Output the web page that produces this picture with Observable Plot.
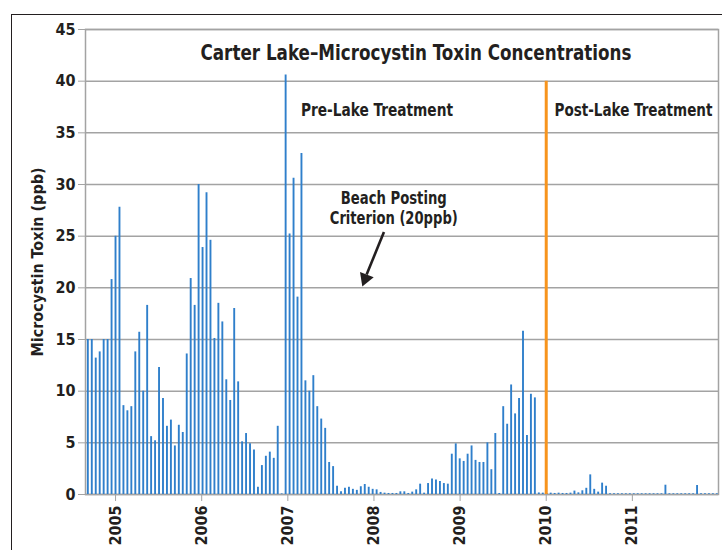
<!DOCTYPE html>
<html>
<head>
<meta charset="utf-8">
<script src="https://cdn.jsdelivr.net/npm/d3@7"></script>
<script src="https://cdn.jsdelivr.net/npm/@observablehq/plot@0.6"></script>
<style>
  html, body { margin: 0; padding: 0; background: #fff; }
  #wrap { position: relative; width: 722px; height: 550px; overflow: hidden; }
  #frame { position: absolute; left: 10.5px; top: 13.5px; width: 800px; height: 600px;
           border-left: 1.5px solid #231f20; border-top: 1.5px solid #231f20; pointer-events: none; }
  svg { position: absolute; left: 0; top: 0; }
</style>
</head>
<body>
<div id="wrap"><div id="frame"></div></div>
<script>
// ---- data ----
const years = [2005, 2006, 2007, 2008, 2009, 2010, 2011];
const yTicks = [0, 5, 10, 15, 20, 25, 30, 35, 40, 45];
// sampling: regular series beginning late 2004, about every 16.8 days
const sampleStart = 2004.678;
const sampleStep = 0.04593;
const toxin = [
  15.0, 15.0, 13.2, 13.8, 15.0, 15.0, 20.8, 25.0, 27.8, 8.6,
  8.1, 8.5, 13.8, 15.7, 10.0, 18.3, 5.6, 5.2, 12.3, 9.3,
  6.6, 7.2, 4.7, 6.7, 6.0, 13.6, 20.9, 18.3, 30.0, 23.9,
  29.2, 24.6, 15.1, 18.5, 16.7, 11.1, 9.1, 18.0, 10.9, 5.1,
  5.9, 4.9, 4.3, 0.7, 2.8, 3.7, 4.1, 3.5, 6.6, 0.06,
  40.6, 25.2, 30.6, 19.1, 33.0, 11.0, 10.0, 11.5, 8.5, 7.3,
  6.4, 3.1, 2.7, 0.8, 0.26, 0.6, 0.7, 0.5, 0.4, 0.75,
  0.97, 0.7, 0.5, 0.45, 0.2, 0.13, 0.1, 0.1, 0.1, 0.26,
  0.26, 0.1, 0.23, 0.45, 1.0, 0.13, 1.06, 1.5, 1.4, 1.26,
  1.06, 1.0, 3.9, 4.9, 3.45, 3.2, 3.9, 4.7, 3.3, 3.1,
  3.1, 5.0, 2.4, 5.9, 0.1, 8.5, 6.8, 10.6, 7.8, 9.3,
  15.8, 5.7, 9.7, 9.35, 0.15, 0.13, 0.1, 0.13, 0.1, 0.13,
  0.1, 0.1, 0.13, 0.33, 0.16, 0.36, 0.6, 1.9, 0.5, 0.23,
  1.1, 0.8, 0.07, 0.07, 0.07, 0.07, 0.07, 0.07, 0.07, 0.07,
  0.07, 0.07, 0.07, 0.07, 0.07, 0.07, 0.9, 0.07, 0.07, 0.07,
  0.07, 0.07, 0.07, 0.07, 0.87, 0.07, 0.07, 0.07, 0.07, 0.07
];
const treatmentYear = [2010];
const treatmentTop = 40;
const criterion = 20;

const FONT = '"Liberation Sans Narrow", "DejaVu Sans Condensed", "Arial Narrow", sans-serif';
const grey = "#a3a3a3";
const ink = "#231f20";

const chart = Plot.plot({
  width: 722,
  height: 550,
  marginLeft: 85,
  marginRight: 4,
  marginTop: 29,
  marginBottom: 56,
  style: { fontFamily: FONT, fontWeight: "bold", color: ink, background: "transparent" },
  x: { type: "linear", domain: [2004.651, 2012.0] },
  y: { domain: [0, 45] },
  marks: [
    Plot.gridY(yTicks, { stroke: grey, strokeOpacity: 1, strokeWidth: 1.5 }),
    Plot.frame({ stroke: grey, strokeWidth: 1.5 }),
    Plot.ruleX(toxin, {
      x: (d, i) => sampleStart + i * sampleStep,
      y1: 0, y2: d => d,
      stroke: "#2f7fcb", strokeWidth: 1.9
    }),
    Plot.ruleX(treatmentYear, { y1: 0, y2: treatmentTop, stroke: "#f7941d", strokeWidth: 3 }),
    Plot.axisY(yTicks, { tickSize: 7, tickPadding: 3, fontSize: 16, stroke: grey, fill: ink, label: null }),
    Plot.axisX(years, { tickSize: 7, tickPadding: 4, tickRotate: -90, fontSize: 16, stroke: grey, fill: ink,
                        tickFormat: d => String(d), label: null }),
    Plot.text(["Microcystin Toxin (ppb)"], { frameAnchor: "left", textAnchor: "middle", rotate: -90, dx: -47,
                                              fontSize: 15, fill: ink, className: "fit-ylabel" }),
    Plot.text(["Carter Lake–Microcystin Toxin Concentrations"], { x: 2008.488, y: 42.7, fontSize: 20.5, fill: ink, className: "fit-title" }),
    Plot.text(["Pre-Lake Treatment"], { x: 2008.035, y: 37.2, fontSize: 18, fill: ink, className: "fit-pre" }),
    Plot.text(["Post-Lake Treatment"], { x: 2011.93, y: 37.2, textAnchor: "end", fontSize: 18, fill: ink, className: "fit-post" }),
    Plot.text(["Beach Posting"], { x: 2008.23, y: 28.65, fontSize: 18, fill: ink, className: "fit-beach1" }),
    Plot.text(["Criterion (20ppb)"], { x: 2008.23, y: 26.71, fontSize: 18, fill: ink, className: "fit-beach2" }),
    Plot.link([criterion], { x1: 2008.116, y1: 25.4, x2: 2007.915, y2: 21.3, stroke: ink, strokeWidth: 2.6 }),
    Plot.dot([criterion], { x: 2007.9, y: 20.9, symbol: "triangle2", r: 7, rotate: 201, fill: ink, stroke: "none" })
  ]
});
// condense annotation text to the widths of the condensed face used in the original
const fits = { "fit-title": 431, "fit-pre": 152, "fit-post": 158, "fit-beach1": 106, "fit-beach2": 128, "fit-ylabel": 189 };
for (const [cls, len] of Object.entries(fits)) {
  chart.querySelectorAll(`g.${cls} text`).forEach(t => {
    t.setAttribute("textLength", len);
    t.setAttribute("lengthAdjust", "spacingAndGlyphs");
  });
}
document.getElementById("wrap").prepend(chart);
</script>
</body>
</html>
